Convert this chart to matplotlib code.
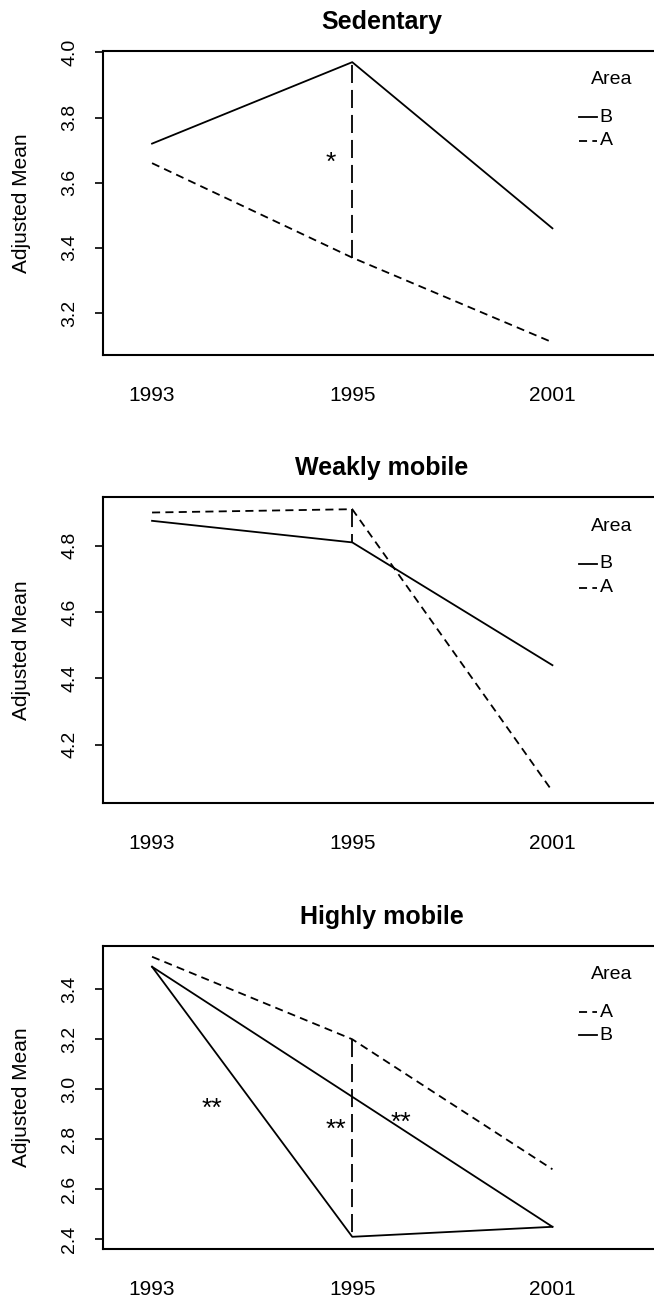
import numpy as np
import matplotlib
matplotlib.use("Agg")
import matplotlib.pyplot as plt

plt.rcParams['font.family'] = ['Liberation Sans', 'DejaVu Sans']
plt.rcParams['lines.scale_dashes'] = False

# === Données ===
years = ["1993", "1995", "2001"]

titles = ["Sedentary", "Weakly mobile", "Highly mobile"]

sed_B = [3.72, 3.97, 3.46]
sed_A = [3.66, 3.37, 3.11]

weak_B = [4.875, 4.81, 4.44]
weak_A = [4.90, 4.91, 4.06]

high_A = [3.53, 3.20, 2.68]
high_B = [3.49, 2.41, 2.45]

# ordre des séries dans chaque légende
panels = [
    [("B", sed_B), ("A", sed_A)],
    [("B", weak_B), ("A", weak_A)],
    [("A", high_A), ("B", high_B)],
]
yticks = [[3.2, 3.4, 3.6, 3.8, 4.0],
          [4.2, 4.4, 4.6, 4.8],
          [2.4, 2.6, 2.8, 3.0, 3.2, 3.4]]
ylims = [(3.071, 4.004), (4.024, 4.946), (2.36, 3.573)]

# étoiles de significativité (x, y, texte)
stars = [
    [(1.895, 3.68, "*")],
    [],
    [(1.30, 2.946, "**"), (1.92, 2.86, "**"), (2.245, 2.89, "**")],
]

# === Styles ===
styles = {"B": dict(ls="-"), "A": dict(ls=(0, (5.8, 3.8)))}
vdash = (0, (13, 5))
lw = 1.3
star_fs = 19

fig = plt.figure(figsize=(6.54, 13), dpi=100)
positions = [[0.1575, 0.7269, 0.8525, 0.2338],
             [0.1575, 0.3821, 0.8525, 0.2354],
             [0.1575, 0.0390, 0.8525, 0.2333]]

x = np.arange(1, len(years) + 1)

for i in range(3):
    ax = fig.add_axes(positions[i])
    series = dict(panels[i])
    for name, vals in panels[i]:
        ax.plot(x, vals, color="black", lw=lw, **styles[name])

    # trait vertical pointillé à 1995 entre A et B
    ax.plot([x[1], x[1]], [series["A"][1], series["B"][1]],
            color="black", lw=lw, ls=vdash)

    # panneau 3 : droite 1993 -> 2001 pour B
    if i == 2:
        ax.plot([x[0], x[2]], [series["B"][0], series["B"][2]],
                color="black", lw=lw)

    for sx, sy, st in stars[i]:
        ax.annotate(st, (sx, sy), xytext=(0, -0.22 * star_fs),
                    textcoords="offset points", ha="center", va="center",
                    fontsize=star_fs)

    # légende façon R
    ax.text(0.913, 0.905, "Area", transform=ax.transAxes, ha="center",
            va="center", fontsize=14)
    for k, (name, vals) in enumerate(panels[i]):
        yy = 0.782 - k * 0.077
        ax.plot([0.854, 0.886], [yy, yy], transform=ax.transAxes,
                color="black", lw=lw, clip_on=False, **styles[name])
        ax.text(0.891, yy, name, transform=ax.transAxes, ha="left",
                va="center", fontsize=14)

    ax.set_xlim(0.755, 3.54)
    ax.set_ylim(*ylims[i])
    ax.set_xticks(x)
    ax.set_xticklabels(years)
    ax.set_yticks(yticks[i])
    ax.set_yticklabels([f"{v:.1f}" for v in yticks[i]], rotation=90,
                       va="center")
    ax.tick_params(axis="x", length=0, pad=22, labelsize=15)
    ax.tick_params(axis="y", length=6, width=1.2, pad=12, labelsize=14,
                   direction="out")
    for sp in ax.spines.values():
        sp.set_linewidth(1.5)
    ax.set_ylabel("Adjusted Mean", fontsize=15)
    ax.yaxis.set_label_coords(-0.129, 0.5)
    ax.set_title(titles[i], fontsize=18, fontweight="bold",
                 family=['Liberation Sans Narrow', 'Liberation Sans'], pad=16)

plt.savefig("out.png", dpi=100)
